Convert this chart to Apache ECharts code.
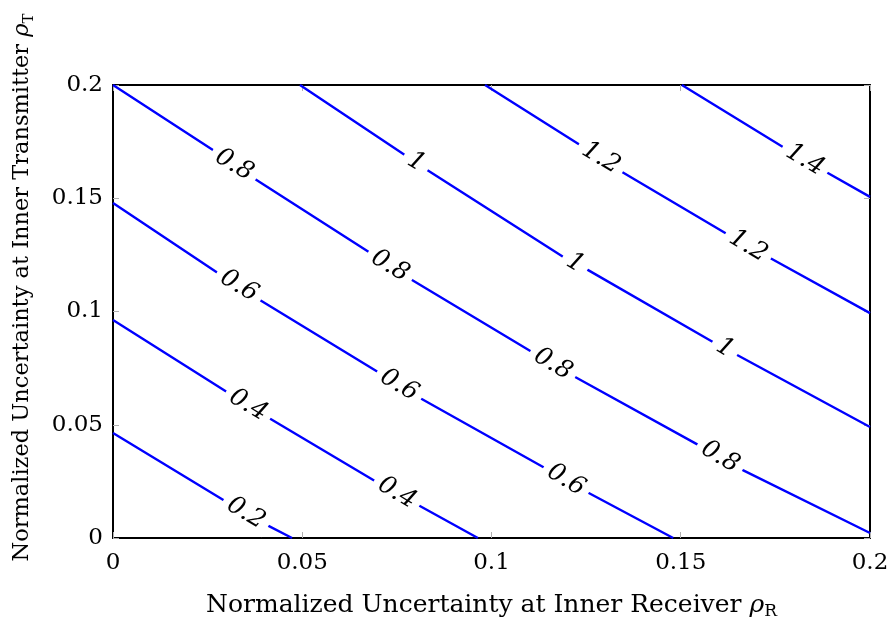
<!DOCTYPE html>
<html>
<head>
<meta charset="utf-8">
<script src="https://cdn.jsdelivr.net/npm/echarts@6/dist/echarts.min.js"></script>
<style>
  html, body { margin: 0; padding: 0; background: #fff; }
  #chart { width: 891px; height: 629px; }
</style>
</head>
<body>
<div id="chart"></div>
<script>
// Tick labels
const xTickLabels = ['0', '0.05', '0.1', '0.15', '0.2'];
const yTickLabels = ['0', '0.05', '0.1', '0.15', '0.2'];

// Contour levels and their polylines [rhoR, rhoT]
const levelNames = ['0.2', '0.4', '0.6', '0.8', '1', '1.2', '1.4'];
const contour02 = [[0, 0.0464], [0.0296, 0.0163], [0.0351, 0.0110], [0.0407, 0.0057], [0.0473, 0]];
const contour04 = [[0, 0.0962], [0.0301, 0.0645], [0.0357, 0.0587], [0.0412, 0.0530], [0.0692, 0.0252],
                   [0.0750, 0.0199], [0.0806, 0.0146], [0.0964, 0]];
const contour06 = [[0, 0.1479], [0.0277, 0.1170], [0.0333, 0.1113], [0.0388, 0.1051], [0.0700, 0.0733],
                   [0.0756, 0.0675], [0.0811, 0.0618], [0.1141, 0.0309], [0.1197, 0.0256], [0.1252, 0.0203],
                   [0.1480, 0]];
const contour08 = [[0, 0.2], [0.0264, 0.1713], [0.0320, 0.1647], [0.0375, 0.1585], [0.0676, 0.1263],
                   [0.0732, 0.1201], [0.0790, 0.1139], [0.1107, 0.0821], [0.1162, 0.0768], [0.1221, 0.0711],
                   [0.1546, 0.0411], [0.1604, 0.0358], [0.1664, 0.0300], [0.2, 0.0022]];
const contour10 = [[0.0494, 0.2], [0.0771, 0.1691], [0.0801, 0.1660], [0.0830, 0.1625], [0.1192, 0.1238],
                   [0.1221, 0.1214], [0.1252, 0.1186], [0.1585, 0.0865], [0.1617, 0.0839], [0.1649, 0.0808],
                   [0.2, 0.0490]];
const contour12 = [[0.0983, 0.2], [0.1234, 0.1735], [0.1289, 0.1678], [0.1345, 0.1616], [0.1622, 0.1342],
                   [0.1678, 0.1289], [0.1736, 0.1236], [0.2, 0.0993]];
const contour14 = [[0.1503, 0.2], [0.1770, 0.1726], [0.1828, 0.1669], [0.1884, 0.1616], [0.2, 0.1506]];

// Inline contour label anchors [rhoR, rhoT]
const labels02 = [[0.0351, 0.0110]];
const labels04 = [[0.0357, 0.0587], [0.0750, 0.0199]];
const labels06 = [[0.0333, 0.1113], [0.0756, 0.0675], [0.1197, 0.0256]];
const labels08 = [[0.0320, 0.1647], [0.0732, 0.1201], [0.1162, 0.0768], [0.1604, 0.0358]];
const labels10 = [[0.0801, 0.1660], [0.1221, 0.1214], [0.1617, 0.0839]];
const labels12 = [[0.1289, 0.1678], [0.1678, 0.1289]];
const labels14 = [[0.1828, 0.1669]];

const contours = [contour02, contour04, contour06, contour08, contour10, contour12, contour14];
const labelSets = [labels02, labels04, labels06, labels08, labels10, labels12, labels14];

const FONT = 'DejaVu Serif';
const BLUE = '#0000ff';

const lineSeries = contours.map((pts, i) => ({
  name: levelNames[i],
  type: 'line',
  data: pts,
  showSymbol: false,
  symbol: 'none',
  lineStyle: { color: BLUE, width: 2.4 },
  z: 2,
  silent: true
}));

const labelData = [];
labelSets.forEach((set, i) => set.forEach(p => labelData.push([p[0], p[1], levelNames[i]])));

// Level values written along each contour, on a white patch that breaks the line
const labelSeries = {
  type: 'scatter',
  data: labelData,
  symbolSize: 1,
  itemStyle: { color: 'rgba(0,0,0,0)', opacity: 1 },
  z: 5,
  silent: true,
  label: {
    show: true,
    position: 'inside',
    formatter: p => p.value[2],
    rotate: -31,
    fontFamily: FONT,
    fontStyle: 'italic',
    fontSize: 25,
    color: '#000',
    opacity: 1,
    backgroundColor: '#fff',
    padding: [0, 6, 0, 6]
  }
};

const tickFmt = labels => v => labels[Math.round(v / 0.05)];
const frameLine = { show: true, onZero: false, lineStyle: { color: '#000', width: 2 } };
const innerTick = { show: true, inside: true, length: 6, lineStyle: { color: '#b0b0b0', width: 1 } };
const makeRich = size => ({
  t: { fontFamily: FONT, fontSize: size, color: '#000', lineHeight: 30 },
  r: { fontFamily: FONT, fontSize: size, fontStyle: 'italic', color: '#000', lineHeight: 30 },
  s: { fontFamily: FONT, fontSize: Math.round(size * 0.68), color: '#000', lineHeight: 30, verticalAlign: 'bottom' }
});

const chart = echarts.init(document.getElementById('chart'), null, { renderer: 'canvas' });
chart.setOption({
  backgroundColor: '#fff',
  animation: false,
  grid: { left: 113, right: 21, top: 85, bottom: 91, containLabel: false, outerBoundsMode: 'none' },
  xAxis: [{
    type: 'value', min: 0, max: 0.2, interval: 0.05, position: 'bottom',
    axisLine: frameLine, axisTick: innerTick, splitLine: { show: false },
    axisLabel: { formatter: tickFmt(xTickLabels), fontFamily: FONT, fontSize: 23, color: '#000', margin: 14 },
    name: '{t|Normalized Uncertainty at Inner Receiver }{r|ρ}{s|R}',
    nameLocation: 'middle', nameGap: 52,
    nameTextStyle: { rich: makeRich(25) }
  }, {
    type: 'value', min: 0, max: 0.2, interval: 0.05, position: 'top',
    axisLine: frameLine, axisTick: innerTick, splitLine: { show: false }, axisLabel: { show: false }
  }],
  yAxis: [{
    type: 'value', min: 0, max: 0.2, interval: 0.05, position: 'left',
    axisLine: frameLine, axisTick: innerTick, splitLine: { show: false },
    axisLabel: { formatter: tickFmt(yTickLabels), fontFamily: FONT, fontSize: 23, color: '#000', margin: 10 },
    name: '{t|Normalized Uncertainty at Inner Transmitter }{r|ρ}{s|T}',
    nameLocation: 'middle', nameGap: 76, nameRotate: 90,
    nameTextStyle: { padding: [0, 0, 0, 48], rich: makeRich(22.5) }
  }, {
    type: 'value', min: 0, max: 0.2, interval: 0.05, position: 'right',
    axisLine: frameLine, axisTick: innerTick, splitLine: { show: false }, axisLabel: { show: false }
  }],
  series: lineSeries.concat([labelSeries])
});
</script>
</body>
</html>
